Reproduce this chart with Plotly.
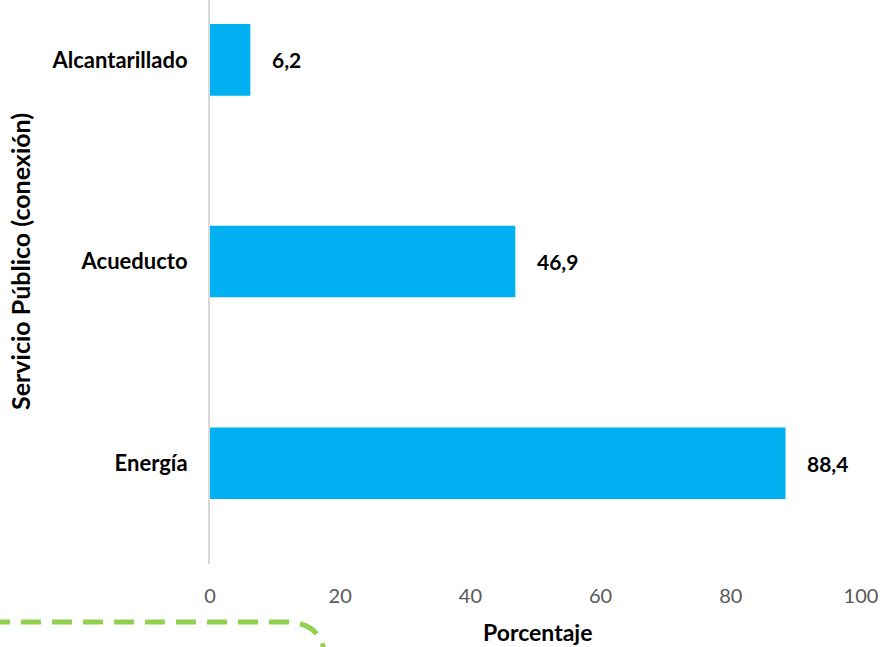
import plotly.graph_objects as go

# data
servicios = ["Energía", "Acueducto", "Alcantarillado"]
porcentajes = [88.4, 46.9, 6.2]
etiquetas = ["88,4", "46,9", "6,2"]
x_ticks = [0, 20, 40, 60, 80, 100]

W, H = 884, 647
L, R, T, B = 210, 23, 0, 83
pw, ph = W - L - R, H - T - B


def px_x(p):
    return (p - L) / pw


def px_y(p):
    return (H - B - p) / ph


fig = go.Figure()

fig.add_trace(
    go.Bar(
        x=porcentajes,
        y=servicios,
        orientation="h",
        marker=dict(color="#00B0F0", line=dict(width=0)),
        width=0.355,
        hoverinfo="skip",
    )
)

for s, v, lab in zip(servicios, porcentajes, etiquetas):
    fig.add_annotation(
        x=v, y=s, text=f"<b>{lab}</b>", showarrow=False,
        xanchor="left", xshift=20,
        font=dict(family="Lato", size=21, color="#000000"),
    )

# axis titles
fig.add_annotation(
    x=px_x(537), y=px_y(632), xref="paper", yref="paper",
    text="<b>Porcentaje</b>", showarrow=False,
    xanchor="center", yanchor="middle",
    font=dict(family="Lato", size=23, color="#000000"),
)
fig.add_annotation(
    x=px_x(20), y=px_y(262), xref="paper", yref="paper",
    text="<b>Servicio Público (conexión)</b>", showarrow=False, textangle=-90,
    xanchor="center", yanchor="middle",
    font=dict(family="Lato", size=25, color="#000000"),
)

# dashed green callout box (partially cut off at the bottom)
x0, x1 = px_x(-10), px_x(325)
ytop, ybot = px_y(622), px_y(700)
rx = 40 / pw
ry = 40 / ph
fig.add_shape(
    type="path", xref="paper", yref="paper",
    path=(f"M {x0} {ytop} L {x1 - rx} {ytop} "
          f"Q {x1} {ytop} {x1} {ytop - ry} L {x1} {ybot}"),
    line=dict(color="#92D050", width=5, dash="20px,11px"),
)
fig.add_annotation(
    x=px_x(2), y=px_y(639), xref="paper", yref="paper",
    text="para la región de", showarrow=False,
    xanchor="left", yanchor="top",
    font=dict(family="Lato", size=22, color="#7f7f7f"),
)

fig.update_layout(
    width=W, height=H,
    margin=dict(l=L, r=R, t=T, b=B, autoexpand=False),
    plot_bgcolor="white", paper_bgcolor="white",
    showlegend=False,
    xaxis=dict(
        range=[0, 100], tickvals=x_ticks, showgrid=False, zeroline=False,
        showline=False, ticks="", automargin=False, ticklabelstandoff=18,
        tickfont=dict(family="Lato", size=20, color="#595959"),
    ),
    yaxis=dict(
        range=[-0.5, 2.297], showgrid=False, zeroline=False,
        showline=True, linecolor="#d9d9d9", linewidth=2,
        ticks="", ticklabelstandoff=16, automargin=False,
        tickfont=dict(family="Lato", size=22, color="#000000", weight="bold"),
    ),
)

# the page's default body margin would shift the chart, so drop it
fig.write_html(
    "out.html",
    config={"displayModeBar": False},
    post_script="document.body.style.margin = '0';",
)
